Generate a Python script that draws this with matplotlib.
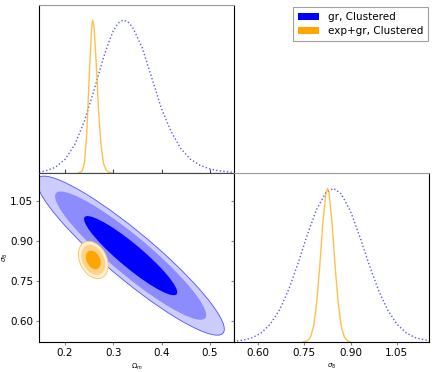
import numpy as np
import matplotlib
matplotlib.use('Agg')
import matplotlib.pyplot as plt
from matplotlib.patches import Ellipse, Patch

# axis ranges and ticks
omega_lim = (0.146, 0.55)
sigma8_lim = (0.522, 1.154)
omega_ticks = [0.2, 0.3, 0.4, 0.5]
sigma8_ticks = [0.60, 0.75, 0.90, 1.05]

labels = ['gr, Clustered', 'exp+gr, Clustered']

# 1D marginals (normalised to peak = 1)
gr_om_x = [0.146, 0.16, 0.18, 0.20, 0.22, 0.24, 0.26, 0.28, 0.29, 0.30, 0.31, 0.32,
           0.33, 0.34, 0.36, 0.38, 0.40, 0.42, 0.44, 0.46, 0.48, 0.50, 0.52, 0.55]
gr_om_p = [0.006, 0.014, 0.037, 0.089, 0.185, 0.338, 0.541, 0.757, 0.85, 0.93, 0.98, 1.0,
           0.99, 0.954, 0.82, 0.62, 0.42, 0.27, 0.16, 0.09, 0.05, 0.027, 0.013, 0.004]

exp_om_x = [0.228, 0.235, 0.24, 0.245, 0.25, 0.255, 0.2575, 0.26, 0.265, 0.27,
            0.275, 0.28, 0.285, 0.29, 0.297]
exp_om_p = [0.0, 0.01, 0.06, 0.25, 0.62, 0.94, 1.0, 0.96, 0.70, 0.38,
            0.17, 0.06, 0.02, 0.006, 0.0]

gr_s8_x = [0.52, 0.55, 0.58, 0.61, 0.64, 0.67, 0.70, 0.73, 0.76, 0.79, 0.82, 0.845,
           0.87, 0.90, 0.93, 0.96, 0.99, 1.02, 1.05, 1.08, 1.11, 1.155]
gr_s8_p = [0.004, 0.012, 0.027, 0.059, 0.117, 0.21, 0.345, 0.514, 0.70, 0.864, 0.973, 1.0,
           0.964, 0.85, 0.685, 0.505, 0.34, 0.209, 0.117, 0.06, 0.028, 0.008]

exp_s8_x = [0.745, 0.76, 0.77, 0.78, 0.79, 0.80, 0.81, 0.82, 0.825, 0.83, 0.84,
            0.85, 0.86, 0.87, 0.88, 0.89, 0.90]
exp_s8_p = [0.0, 0.008, 0.032, 0.10, 0.25, 0.49, 0.775, 0.97, 1.0, 0.97, 0.775,
            0.49, 0.25, 0.10, 0.032, 0.008, 0.0]

# 2D posteriors: mean, sigma, correlation (Omega_m, sigma_8)
gr_mean = (0.336, 0.845)
gr_sigma = (0.064, 0.098)
gr_rho = -0.925
exp_mean = (0.2586, 0.829)
exp_sigma = (0.0102, 0.023)
exp_rho = -0.3
conf_levels = [0.99, 0.95, 0.68]

blue = '#0000ff'
orange = '#ffa500'
gr_fills = ['#ccccff', '#8c8cff', '#0000ff']
exp_fills = ['#fff0d6', '#ffd48a', '#ffa500']


def conf_ellipse(ax, mean, sig, rho, p, **kw):
    cov = np.array([[sig[0] ** 2, rho * sig[0] * sig[1]],
                    [rho * sig[0] * sig[1], sig[1] ** 2]])
    vals, vecs = np.linalg.eigh(cov)
    k = np.sqrt(-2 * np.log(1 - p))
    angle = np.degrees(np.arctan2(vecs[1, 1], vecs[0, 1]))
    e = Ellipse(mean, 2 * k * np.sqrt(vals[1]), 2 * k * np.sqrt(vals[0]), angle=angle, **kw)
    ax.add_patch(e)


fig = plt.figure(figsize=(4.36, 3.72), dpi=100)
ax_top = fig.add_axes([0.0894, 0.535, 0.447, 0.452])
ax_2d = fig.add_axes([0.0894, 0.0806, 0.447, 0.4543])
ax_br = fig.add_axes([0.5367, 0.0806, 0.447, 0.4543])

dots = (0, (1, 1.6))

# top: Omega_m marginal
ax_top.plot(gr_om_x, gr_om_p, color=blue, ls=dots, lw=1, alpha=0.65)
ax_top.plot(exp_om_x, exp_om_p, color=orange, lw=1, alpha=0.7)
ax_top.set_xlim(omega_lim)
ax_top.set_ylim(0, 1.1)
ax_top.set_xticks(omega_ticks)
ax_top.set_xticklabels([])
ax_top.set_yticks([])
ax_top.tick_params(axis='x', direction='in', length=3, color='#444444')
ax_top.spines['top'].set_color('#999999')

# 2D
for p, c in zip(conf_levels, gr_fills):
    conf_ellipse(ax_2d, gr_mean, gr_sigma, gr_rho, p, facecolor=c,
                 edgecolor='#5050ff' if p == conf_levels[0] else 'none', lw=0.6)
for p, c in zip(conf_levels, exp_fills):
    conf_ellipse(ax_2d, exp_mean, exp_sigma, exp_rho, p, facecolor=c,
                 edgecolor='#ffc060' if p == conf_levels[0] else 'none', lw=0.6)
ax_2d.set_xlim(omega_lim)
ax_2d.set_ylim(sigma8_lim)
ax_2d.set_xticks(omega_ticks)
ax_2d.set_xticklabels(['%.1f' % t for t in omega_ticks], fontsize=7.5)
ax_2d.set_yticks(sigma8_ticks)
ax_2d.set_yticklabels(['%.2f' % t for t in sigma8_ticks], fontsize=7.5)
ax_2d.tick_params(direction='out', length=2, color='#888888', pad=2)
ax_2d.spines['top'].set_color('#444444')
ax_2d.set_xlabel(r'$\Omega_m$', fontsize=5, labelpad=3)
ax_2d.set_ylabel(r'$\sigma_8$', fontsize=5)
ax_2d.yaxis.set_label_coords(-0.15, 0.5)

# bottom right: sigma_8 marginal
ax_br.plot(gr_s8_x, gr_s8_p, color=blue, ls=dots, lw=1, alpha=0.65)
ax_br.plot(exp_s8_x, exp_s8_p, color=orange, lw=1, alpha=0.7)
ax_br.set_xlim(sigma8_lim)
ax_br.set_ylim(0, 1.1)
ax_br.set_xticks(sigma8_ticks)
ax_br.set_xticklabels(['%.2f' % t for t in sigma8_ticks], fontsize=7.5)
ax_br.set_yticks([(t - sigma8_lim[0]) / (sigma8_lim[1] - sigma8_lim[0]) * 1.1 for t in sigma8_ticks])
ax_br.set_yticklabels([])
ax_br.tick_params(direction='out', length=2, color='#888888', pad=2)
ax_br.spines['top'].set_color('#999999')
ax_br.set_xlabel(r'$\sigma_8$', fontsize=5, labelpad=3)

handles = [Patch(facecolor=blue, edgecolor='none'), Patch(facecolor=orange, edgecolor='none')]
leg = fig.legend(handles, labels, loc='upper right', bbox_to_anchor=(0.982, 0.982),
                 borderaxespad=0, fontsize=7.5, frameon=True, fancybox=False,
                 handlelength=2.0, handleheight=0.6, borderpad=0.5, labelspacing=0.4,
                 handletextpad=0.8)
leg.get_frame().set_edgecolor('#888888')
leg.get_frame().set_linewidth(0.8)

fig.savefig('out.png', dpi=100)
